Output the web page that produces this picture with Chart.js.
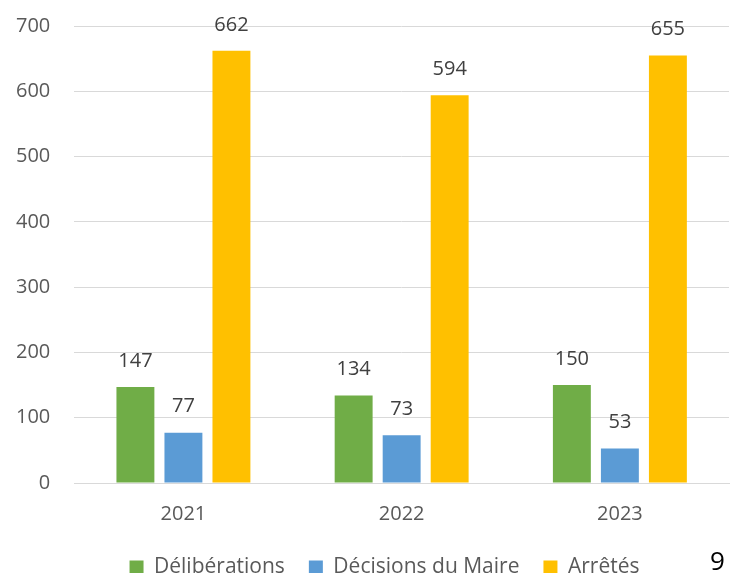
<!DOCTYPE html>
<html>
<head>
    <meta charset="utf-8">
    <title>Actes</title>
    <script src="https://cdn.jsdelivr.net/npm/chart.js"></script>
    <style>
        body { margin: 0; background: #fff; }
        #wrap { position: relative; width: 730px; height: 573px; overflow: hidden; }
        #cadre { position: absolute; left: 0; top: -10px; width: 730px; height: 583px; }
        #page { position: absolute; left: 710px; top: 542px; font: 26px "Open Sans", sans-serif; color: #000; }
    </style>
</head>
<body>
    <div id="wrap">
        <div id="cadre"><canvas id="actesChart"></canvas></div>
        <div id="page">9</div>
    </div>

    <script>
        // Données
        const annees = ['2021', '2022', '2023'];
        const deliberations = [147, 134, 150];
        const decisions = [77, 73, 53];
        const arretes = [662, 594, 655];
        const ticksY = [0, 100, 200, 300, 400, 500, 600, 700];

        const police = '"Open Sans", sans-serif';

        // Étiquettes de valeurs au-dessus des barres
        const valeurs = {
            id: 'valeurs',
            afterLayout(chart) {
                // légende un peu décalée vers la droite comme dans Excel
                chart.legend.left += 24;
                chart.legend.right += 24;
            },
            afterDatasetsDraw(chart) {
                const ctx = chart.ctx;
                ctx.save();
                ctx.font = '20px ' + police;
                ctx.fillStyle = '#404040';
                ctx.textAlign = 'center';
                ctx.textBaseline = 'middle';
                chart.data.datasets.forEach((ds, i) => {
                    chart.getDatasetMeta(i).data.forEach((bar, j) => {
                        ctx.fillText(ds.data[j], bar.x, bar.y - 26);
                    });
                });
                ctx.restore();
            }
        };

        new Chart(document.getElementById('actesChart'), {
            type: 'bar',
            data: {
                labels: annees,
                datasets: [
                    { label: 'Délibérations', data: deliberations, backgroundColor: '#70AD47' },
                    { label: 'Décisions du Maire', data: decisions, backgroundColor: '#5B9BD5' },
                    { label: 'Arrêtés', data: arretes, backgroundColor: '#FFC000' }
                ]
            },
            options: {
                responsive: true,
                maintainAspectRatio: false,
                animation: false,
                datasets: { bar: { categoryPercentage: 0.66, barPercentage: 0.79 } },
                layout: { padding: { left: -8, right: 1, top: 0, bottom: -15 } },
                scales: {
                    x: {
                        grid: { display: false },
                        border: { color: '#d9d9d9' },
                        afterFit(axis) { axis.height -= 4; },
                        ticks: { color: '#595959', font: { size: 20, family: police }, padding: 11 }
                    },
                    y: {
                        min: 0, max: 700,
                        afterBuildTicks(axis) { axis.ticks = ticksY.map(v => ({ value: v })); },
                        grid: { color: '#d9d9d9', drawTicks: false },
                        border: { display: false },
                        ticks: { color: '#595959', font: { size: 20, family: police }, padding: 24 }
                    }
                },
                plugins: {
                    legend: {
                        position: 'bottom',
                        labels: {
                            color: '#595959',
                            boxWidth: 14, boxHeight: 14,
                            padding: 24,
                            font: { size: 21, family: police }
                        }
                    },
                    tooltip: { enabled: false }
                }
            },
            plugins: [valeurs]
        });
    </script>
</body>
</html>
